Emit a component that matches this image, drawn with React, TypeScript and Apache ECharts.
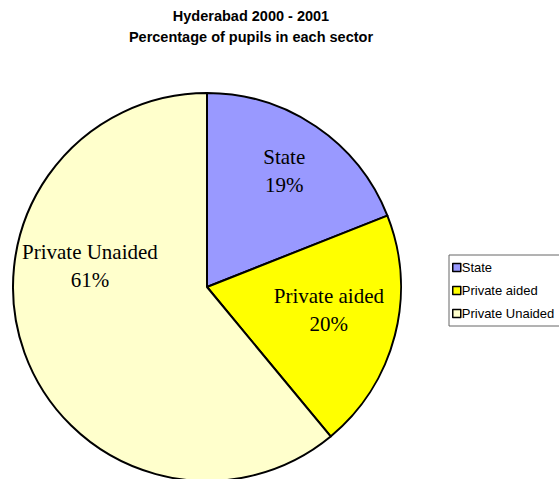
import React, { useEffect, useRef } from "react";
import * as echarts from "echarts";

const categories = ["State", "Private aided", "Private Unaided"];
const values = [19, 20, 61];
const colors = ["#9999FF", "#FFFF00", "#FFFFCC"];
const titleLines = ["Hyderabad 2000 - 2001", "Percentage of pupils in each sector"];

// label nudges relative to ECharts' default "inside" placement
const labelNudges: [number, number][] = [
  [21, -33],
  [25, -2],
  [-23, -55],
];

export default function App() {
  const ref = useRef<HTMLDivElement>(null);
  useEffect(() => {
    if (!ref.current) return;
    const chart = echarts.init(ref.current, undefined, { renderer: "svg" });
    chart.setOption({
      animation: false,
      backgroundColor: "#ffffff",
      graphic: [
        {
          type: "text",
          x: 251,
          y: 5,
          style: {
            text: titleLines.join("\n"),
            align: "center",
            verticalAlign: "top",
            fontFamily: "Liberation Sans, Arial, sans-serif",
            fontWeight: "bold",
            fontSize: 14.5,
            lineHeight: 21,
            fill: "#000",
          },
        },
      ],
      legend: {
        orient: "vertical",
        left: 449,
        top: 255,
        data: categories,
        icon: "rect",
        itemWidth: 8,
        itemHeight: 8,
        itemGap: 10,
        padding: [6, 30, 6, 3],
        borderColor: "#666",
        borderWidth: 1,
        selectedMode: false,
        itemStyle: { borderColor: "#000", borderWidth: 1.5 },
        textStyle: {
          fontFamily: "Liberation Sans, Arial, sans-serif",
          fontSize: 13,
          color: "#000",
          padding: [0, 0, 0, -4],
        },
      },
      series: [
        {
          type: "pie",
          center: [207, 287],
          radius: 194,
          startAngle: 90,
          clockwise: true,
          silent: true,
          data: categories.map((name, i) => ({
            name,
            value: values[i],
            itemStyle: { color: colors[i] },
          })),
          itemStyle: { borderColor: "#000", borderWidth: 2 },
          label: {
            show: true,
            position: "inside",
            formatter: "{b}\n{d}%",
            fontFamily: "Liberation Serif, Times New Roman, serif",
            fontSize: 21,
            lineHeight: 28,
            color: "#000",
          },
          labelLayout: (params: any) => ({
            dx: labelNudges[params.dataIndex][0],
            dy: labelNudges[params.dataIndex][1],
          }),
          labelLine: { show: false },
          emphasis: { disabled: true },
        },
      ],
    });
    return () => chart.dispose();
  }, []);
  return (
    <div
      ref={ref}
      style={{ position: "fixed", left: 0, top: 0, width: 559, height: 479 }}
    />
  );
}
